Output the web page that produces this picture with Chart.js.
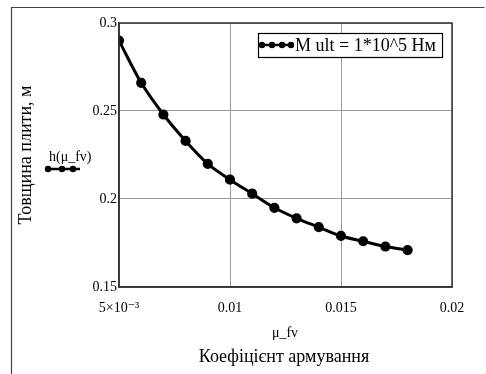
<!DOCTYPE html>
<html>
<head>
<meta charset="utf-8">
<script src="https://cdn.jsdelivr.net/npm/chart.js@4/dist/chart.umd.min.js"></script>
<style>
  html, body { margin: 0; padding: 0; background: #fff; }
  #wrap { width: 486px; height: 374px; position: relative; }
</style>
</head>
<body>
<div id="wrap"><canvas id="c" width="486" height="374"></canvas></div>
<script>
const muValues = [0.005, 0.006, 0.007, 0.008, 0.009, 0.010, 0.011, 0.012, 0.013, 0.014, 0.015, 0.016, 0.017, 0.018];
const hValues  = [0.290, 0.266, 0.248, 0.233, 0.220, 0.211, 0.203, 0.195, 0.189, 0.184, 0.179, 0.176, 0.173, 0.171];
const xTicks = [0.005, 0.01, 0.015, 0.02];
const xTickLabels = ['5×10⁻³', '0.01', '0.015', '0.02'];
const yTicks = [0.15, 0.2, 0.25, 0.3];
const yTickLabels = ['0.15', '0.2', '0.25', '0.3'];
const seriesLabel = 'M ult = 1*10^5 Нм';
const yTitle = 'Товщина плити, м';
const xVarLabel = 'μ_fv';
const xTitle = 'Коефіцієнт армування';
const funcLabel = 'h(μ_fv)';

const SERIF = '"Liberation Serif", "DejaVu Serif", serif';

function drawSymbol(ctx, x1, x2, y, dots) {
  ctx.save();
  ctx.strokeStyle = '#000';
  ctx.fillStyle = '#000';
  ctx.lineWidth = 2.5;
  ctx.beginPath(); ctx.moveTo(x1, y); ctx.lineTo(x2, y); ctx.stroke();
  dots.forEach(dx => { ctx.beginPath(); ctx.arc(dx, y, 3.2, 0, Math.PI * 2); ctx.fill(); });
  ctx.restore();
}

const decor = {
  id: 'decor',
  afterDraw(chart) {
    const ctx = chart.ctx;
    const a = chart.chartArea;
    ctx.save();
    // outer frame
    ctx.strokeStyle = '#444';
    ctx.lineWidth = 1.2;
    ctx.beginPath();
    ctx.moveTo(11.5, 380); ctx.lineTo(11.5, 7.5); ctx.lineTo(484.5, 7.5);
    ctx.stroke();
    // plot box (top & right)
    ctx.strokeStyle = '#333';
    ctx.lineWidth = 1.5;
    ctx.strokeRect(a.left, a.top, a.right - a.left, a.bottom - a.top);
    // legend box
    ctx.fillStyle = '#fff';
    ctx.fillRect(258, 33, 184, 24);
    ctx.strokeStyle = '#000';
    ctx.lineWidth = 1.2;
    ctx.strokeRect(258.5, 33.5, 184, 24);
    drawSymbol(ctx, 260, 293, 45, [262, 272, 282, 291]);
    ctx.fillStyle = '#000';
    ctx.font = '18px ' + SERIF;
    ctx.textBaseline = 'middle';
    ctx.textAlign = 'left';
    ctx.fillText(seriesLabel, 295, 46);
    // function label on left
    ctx.font = '14px ' + SERIF;
    ctx.textAlign = 'left';
    ctx.fillText(funcLabel, 49, 157);
    drawSymbol(ctx, 46, 80, 169, [48, 62, 73]);
    // y title
    ctx.save();
    ctx.translate(26, 155);
    ctx.rotate(-Math.PI / 2);
    ctx.font = '18px ' + SERIF;
    ctx.textAlign = 'center';
    ctx.textBaseline = 'middle';
    ctx.fillText(yTitle, 0, 0);
    ctx.restore();
    // x titles
    ctx.font = '14px ' + SERIF;
    ctx.textAlign = 'center';
    ctx.textBaseline = 'middle';
    ctx.fillText(xVarLabel, 285, 333);
    ctx.font = '18px ' + SERIF;
    ctx.fillText(xTitle, 284, 357);
    ctx.restore();
  }
};

new Chart(document.getElementById('c'), {
  type: 'scatter',
  data: {
    datasets: [{
      label: seriesLabel,
      data: muValues.map((x, i) => ({ x: x, y: hValues[i] })),
      showLine: true,
      borderColor: '#000',
      backgroundColor: '#000',
      borderWidth: 3,
      pointRadius: 3.6,
      pointHoverRadius: 3.6,
      pointBackgroundColor: '#000',
      pointBorderColor: '#000',
      tension: 0.3
    }]
  },
  options: {
    responsive: false,
    animation: false,
    events: [],
    layout: { padding: { left: 0, top: 23, right: 34, bottom: 0 } },
    plugins: { legend: { display: false }, tooltip: { enabled: false } },
    scales: {
      x: {
        type: 'linear',
        min: 0.005, max: 0.02,
        afterBuildTicks: s => { s.ticks = xTicks.map(v => ({ value: v })); },
        afterFit: s => { s.height = 87; },
        ticks: {
          callback: (v, i) => xTickLabels[i],
          font: { family: SERIF, size: 14 },
          color: '#000',
          padding: 13,
          maxRotation: 0
        },
        grid: { color: '#999', lineWidth: 1, drawTicks: false },
        border: { color: '#333', width: 1.5 }
      },
      y: {
        type: 'linear',
        min: 0.15, max: 0.3,
        afterBuildTicks: s => { s.ticks = yTicks.map(v => ({ value: v })); },
        afterFit: s => { s.width = 119; },
        ticks: {
          callback: (v, i) => yTickLabels[i],
          font: { family: SERIF, size: 14 },
          color: '#000',
          padding: 2
        },
        grid: { color: '#999', lineWidth: 1, drawTicks: false },
        border: { color: '#333', width: 1.5 }
      }
    }
  },
  plugins: [decor]
});
</script>
</body>
</html>
